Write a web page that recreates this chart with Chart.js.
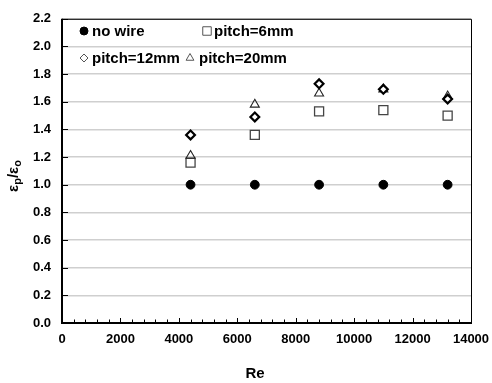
<!DOCTYPE html>
<html><head><meta charset="utf-8">
<script src="https://cdn.jsdelivr.net/npm/chart.js@4/dist/chart.umd.min.js"></script>
<style>html,body{margin:0;padding:0;background:#fff}#wrap{width:492px;height:383px}</style>
</head><body><div id="wrap"><canvas id="c" width="492" height="383"></canvas></div>
<script>
// ---- data ----
const reValues = [4400, 6600, 8800, 11000, 13200];
const noWire   = [1.00, 1.00, 1.00, 1.00, 1.00];
const pitch6   = [1.16, 1.36, 1.53, 1.54, 1.50];
const pitch12  = [1.36, 1.49, 1.73, 1.69, 1.62];
const pitch20  = [1.21, 1.58, 1.66, 1.69, 1.64];
const seriesLabels = ['no wire', 'pitch=6mm', 'pitch=12mm', 'pitch=20mm'];
const xTitle = 'Re';

const FONT = '"Liberation Sans", Arial, sans-serif';
const pts = arr => reValues.map((x, i) => ({x: x, y: arr[i]}));

const styles = [
  {pointStyle: 'circle',   radius: 4.4, bg: '#000', border: '#000', bw: 1},
  {pointStyle: 'rect',     radius: 6.4, bg: '#fff', border: '#444', bw: 1.3},
  {pointStyle: 'rectRot',  radius: 4.4, bg: '#fff', border: '#000', bw: 2.2},
  {pointStyle: 'triangle', radius: 5.2, bg: 'rgba(0,0,0,0)', border: '#222', bw: 1.1}
];
const legendStyles = [
  {pointStyle: 'circle',   radius: 4,   bg: '#000', border: '#000', bw: 1},
  {pointStyle: 'rect',     radius: 6,   bg: '#fff', border: '#555', bw: 1},
  {pointStyle: 'rectRot',  radius: 4,   bg: '#fff', border: '#555', bw: 1},
  {pointStyle: 'triangle', radius: 4.5, bg: '#fff', border: '#555', bw: 1}
];
const seriesData = [noWire, pitch6, pitch12, pitch20];

const datasets = seriesData.map((d, i) => ({
  label: seriesLabels[i],
  data: pts(d),
  showLine: false,
  pointStyle: styles[i].pointStyle,
  pointRadius: styles[i].radius,
  pointBackgroundColor: styles[i].bg,
  pointBorderColor: styles[i].border,
  pointBorderWidth: styles[i].bw,
  order: [0, 3, 1, 2][i]
}));

const framePlugin = {
  id: 'frame',
  afterDraw(chart) {
    const ctx = chart.ctx, a = chart.chartArea;
    const xs = chart.scales.x, ys = chart.scales.y;
    ctx.save();
    ctx.strokeStyle = '#000';
    ctx.lineWidth = 1;
    ctx.beginPath();
    ctx.moveTo(a.left, a.top + 0.5); ctx.lineTo(a.right + 0.5, a.top + 0.5);
    ctx.lineTo(a.right + 0.5, a.bottom);
    ctx.stroke();
    ctx.lineWidth = 2;
    ctx.beginPath();
    ctx.moveTo(a.left, a.top); ctx.lineTo(a.left, a.bottom); ctx.lineTo(a.right + 1, a.bottom);
    ctx.stroke();
    ctx.lineWidth = 1;
    ctx.beginPath();
    for (let v = 0; v <= 2.2001; v += 0.2) {
      const y = Math.round(ys.getPixelForValue(v)) + 0.5;
      ctx.moveTo(a.left, y); ctx.lineTo(a.left + 6, y);
    }
    for (let v = 400; v <= 14000; v += 400) {
      const x = Math.round(xs.getPixelForValue(v)) + 0.5;
      const len = (v % 2000 === 0) ? 5 : 3.5;
      ctx.moveTo(x, a.bottom); ctx.lineTo(x, a.bottom - len);
    }
    ctx.stroke();

    const entries = [
      {i: 0, mx: 84,  tx: 92,  y: 31},
      {i: 1, mx: 207, tx: 214, y: 31},
      {i: 2, mx: 84,  tx: 92,  y: 58},
      {i: 3, mx: 190, tx: 199, y: 58}
    ];
    ctx.font = 'bold 15px ' + FONT;
    ctx.textBaseline = 'middle';
    ctx.textAlign = 'left';
    entries.forEach(e => {
      const s = legendStyles[e.i];
      ctx.fillStyle = s.bg; ctx.strokeStyle = s.border; ctx.lineWidth = s.bw;
      Chart.helpers.drawPoint(ctx, {pointStyle: s.pointStyle, radius: s.radius, rotation: 0, borderWidth: s.bw}, e.mx, e.y);
      ctx.fillStyle = '#000';
      ctx.fillText(chart.data.datasets[e.i].label, e.tx, e.y + 1);
    });

    ctx.font = 'bold 15px ' + FONT;
    ctx.textAlign = 'center';
    ctx.fillText(xTitle, 255, 374);

    ctx.translate(14, 176);
    ctx.rotate(-Math.PI / 2);
    const big = 'bold 15px ' + FONT, small = 'bold 11px ' + FONT;
    const parts = [['ε', big, 0], ['p', small, 4], ['/ε', big, 0], ['o', small, 4]];
    let total = 0;
    parts.forEach(p => { ctx.font = p[1]; total += ctx.measureText(p[0]).width; });
    let x = -total / 2;
    ctx.textAlign = 'left';
    parts.forEach(p => { ctx.font = p[1]; ctx.fillText(p[0], x, p[2]); x += ctx.measureText(p[0]).width; });
    ctx.restore();
  }
};

new Chart(document.getElementById('c'), {
  type: 'scatter',
  data: { datasets: datasets },
  options: {
    responsive: false,
    animation: false,
    devicePixelRatio: 1,
    layout: { padding: { left: 0, right: 21, top: 15, bottom: 0 } },
    plugins: { legend: { display: false }, tooltip: { enabled: false } },
    scales: {
      x: {
        type: 'linear', min: 0, max: 14000,
        afterFit(s) { s.height = 60; s.paddingRight = 0; },
        grid: { display: false, drawTicks: false },
        border: { display: false },
        ticks: { stepSize: 2000, padding: 9, color: '#000', font: { family: FONT, size: 13, weight: 'bold' }, maxRotation: 0,
                 callback: v => String(v) }
      },
      y: {
        type: 'linear', min: 0, max: 2.2,
        afterFit(s) { s.width = 62; },
        grid: { color: '#cfcfcf', lineWidth: 1.5, drawTicks: false },
        border: { display: false },
        ticks: { stepSize: 0.2, padding: 11, color: '#000', font: { family: FONT, size: 13, weight: 'bold' },
                 callback: v => v.toFixed(1) }
      }
    }
  },
  plugins: [framePlugin]
});
</script>
</body></html>
